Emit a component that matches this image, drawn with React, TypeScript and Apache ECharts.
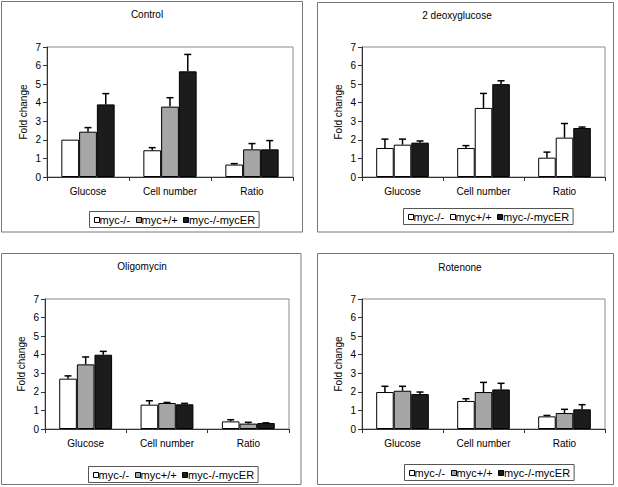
import React, { useEffect, useRef } from 'react';
import * as echarts from 'echarts';

const categories = ['Glucose', 'Cell number', 'Ratio'];
const seriesNames = ['myc-/-', 'myc+/+', 'myc-/-mycER'];
const panelTitles = ['Control', '2 deoxyglucose', 'Oligomycin', 'Rotenone'];
const yAxisName = 'Fold change';
const yMin = 0;
const yMax = 7;
const yInterval = 1;

// values[series][category]
const controlValues = [
  [2.01, 1.44, 0.67],
  [2.44, 3.79, 1.49],
  [3.91, 5.69, 1.49],
];
const controlErrors = [
  [0.0, 0.14, 0.05],
  [0.22, 0.48, 0.31],
  [0.58, 0.91, 0.47],
];
const deoxyValues = [
  [1.56, 1.56, 1.04],
  [1.74, 3.72, 2.12],
  [1.85, 5.0, 2.64],
];
const deoxyErrors = [
  [0.48, 0.13, 0.3],
  [0.3, 0.78, 0.76],
  [0.09, 0.18, 0.05],
];
const oligoValues = [
  [2.71, 1.31, 0.41],
  [3.48, 1.4, 0.29],
  [4.0, 1.33, 0.32],
];
const oligoErrors = [
  [0.15, 0.21, 0.09],
  [0.4, 0.03, 0.07],
  [0.18, 0.05, 0.01],
];
const rotenoneValues = [
  [1.99, 1.51, 0.68],
  [2.06, 1.99, 0.86],
  [1.88, 2.13, 1.06],
];
const rotenoneErrors = [
  [0.31, 0.12, 0.05],
  [0.24, 0.52, 0.2],
  [0.11, 0.33, 0.25],
];

const WHITE = '#ffffff';
const GRAY = '#a6a6a6';
const DARK = '#1c1c1c';
const defaultColors = [WHITE, GRAY, DARK];
const deoxyColors = [WHITE, WHITE, DARK];

const FONT = '"Liberation Sans", Arial, sans-serif';

const panelData = [
  { values: controlValues, errors: controlErrors, colors: defaultColors },
  { values: deoxyValues, errors: deoxyErrors, colors: deoxyColors },
  { values: oligoValues, errors: oligoErrors, colors: defaultColors },
  { values: rotenoneValues, errors: rotenoneErrors, colors: defaultColors },
];

const panelLayout = [
  { frame: [1.5, 1.5, 301, 230.5], grid: { left: 47, top: 47, width: 246, height: 130 }, title: [147, 14], legend: [89.5, 211.5, 16] },
  { frame: [317.5, 2.5, 296, 229.5], grid: { left: 362, top: 47, width: 243, height: 130 }, title: [457, 15.5], legend: [403.5, 208.5, 16] },
  { frame: [1.5, 253.5, 299.5, 231], grid: { left: 45, top: 299, width: 244, height: 130 }, title: [142, 266.5], legend: [88.5, 466.5, 16] },
  { frame: [317.5, 253.5, 296, 231], grid: { left: 362, top: 299, width: 243, height: 130 }, title: [460, 267], legend: [404.5, 464.5, 16] },
];

const BAR_GAP_FRACTION = 0.35;

function measure(text: string, size: number): number {
  try {
    const c = document.createElement('canvas').getContext('2d');
    if (c) {
      c.font = `${size}px ${FONT}`;
      return c.measureText(text).width;
    }
  } catch (e) {
    // ignore
  }
  return text.length * size * 0.55;
}

export default function App() {
  const ref = useRef<HTMLDivElement>(null);

  useEffect(() => {
    document.body.style.margin = '0';
    if (!ref.current) return;
    const chart = echarts.init(ref.current, undefined, { renderer: 'svg' });

    const grids: any[] = [];
    const xAxes: any[] = [];
    const yAxes: any[] = [];
    const series: any[] = [];
    const graphics: any[] = [];

    panelData.forEach((pd, p) => {
      const lay = panelLayout[p];
      grids.push({
        ...lay.grid,
        show: true,
        borderColor: '#8a8a8a',
        borderWidth: 1,
        backgroundColor: 'transparent',
      });
      xAxes.push({
        type: 'category',
        gridIndex: p,
        data: categories,
        axisLine: { show: true, lineStyle: { color: '#333', width: 1 } },
        axisTick: { show: true, length: 4, lineStyle: { color: '#333' } },
        axisLabel: { margin: 9, fontSize: 10, color: '#000', fontFamily: FONT },
        splitLine: { show: false },
      });
      yAxes.push({
        type: 'value',
        gridIndex: p,
        min: yMin,
        max: yMax,
        interval: yInterval,
        name: yAxisName,
        nameLocation: 'middle',
        nameRotate: 90,
        nameGap: 19,
        nameTextStyle: { fontSize: 10, color: '#000', fontFamily: FONT },
        axisLine: { show: true, lineStyle: { color: '#333', width: 1 } },
        axisTick: { show: true, length: 4, lineStyle: { color: '#333' } },
        axisLabel: { margin: 6, fontSize: 10, color: '#000', fontFamily: FONT },
        splitLine: { show: false },
      });

      pd.values.forEach((vals, k) => {
        series.push({
          type: 'bar',
          name: seriesNames[k],
          xAxisIndex: p,
          yAxisIndex: p,
          data: vals,
          barGap: '0%',
          barCategoryGap: `${BAR_GAP_FRACTION * 100}%`,
          itemStyle: { color: pd.colors[k], borderColor: '#000', borderWidth: 1 },
          z: 2,
        });
      });

      const errData: number[][] = [];
      pd.values.forEach((vals, k) => {
        vals.forEach((v, c) => {
          errData.push([c, v, pd.errors[k][c], k]);
        });
      });
      series.push({
        type: 'custom',
        xAxisIndex: p,
        yAxisIndex: p,
        data: errData,
        encode: { x: 0, y: 1 },
        z: 5,
        renderItem: (params: any, api: any) => {
          const c = api.value(0);
          const v = api.value(1);
          const e = api.value(2);
          const k = api.value(3);
          if (!e || e <= 0) return null;
          const base = api.coord([c, v]);
          const top = api.coord([c, v + e]);
          const band = api.size([1, 0])[0];
          const bw = (band * (1 - BAR_GAP_FRACTION)) / 3;
          const x = base[0] + (k - 1) * bw;
          const capHalf = 3.5;
          return {
            type: 'group',
            children: [
              {
                type: 'line',
                shape: { x1: x, y1: base[1], x2: x, y2: top[1] },
                style: { stroke: '#000', lineWidth: 1.5 },
              },
              {
                type: 'line',
                shape: { x1: x - capHalf, y1: top[1], x2: x + capHalf, y2: top[1] },
                style: { stroke: '#000', lineWidth: 1.5 },
              },
            ],
          };
        },
      });

      // panel frame
      const [fx, fy, fw, fh] = lay.frame;
      graphics.push({
        type: 'rect',
        shape: { x: fx, y: fy, width: fw, height: fh },
        style: { fill: 'none', stroke: '#777', lineWidth: 1 },
        silent: true,
      });
      // title
      graphics.push({
        type: 'text',
        x: lay.title[0],
        y: lay.title[1],
        style: {
          text: panelTitles[p],
          align: 'center',
          verticalAlign: 'middle',
          fontSize: 10,
          fontFamily: FONT,
          fill: '#000',
        },
        silent: true,
      });
      // legend
      const [lx, ly, lh] = lay.legend;
      const children: any[] = [];
      let cx = lx + 4;
      const cy = ly + lh / 2;
      seriesNames.forEach((nm, k) => {
        children.push({
          type: 'rect',
          shape: { x: Math.round(cx) + 0.5, y: Math.round(cy - 3) + 0.5, width: 5, height: 5 },
          style: { fill: pd.colors[k], stroke: '#000', lineWidth: 1 },
        });
        const tx = cx + 6;
        children.push({
          type: 'text',
          x: tx,
          y: cy,
          style: {
            text: nm,
            align: 'left',
            verticalAlign: 'middle',
            fontSize: 11,
            fontFamily: FONT,
            fill: '#000',
          },
        });
        const w = measure(nm, 11);
        cx = tx + w + (k < seriesNames.length - 1 ? 5.5 : 0);
      });
      const boxW = cx + 4 - lx;
      graphics.push({
        type: 'group',
        silent: true,
        children: [
          {
            type: 'rect',
            shape: { x: lx, y: ly, width: boxW, height: lh },
            style: { fill: '#fff', stroke: '#555', lineWidth: 1 },
          },
          ...children,
        ],
      });
    });

    chart.setOption({
      animation: false,
      backgroundColor: '#ffffff',
      textStyle: { fontFamily: FONT },
      grid: grids,
      xAxis: xAxes,
      yAxis: yAxes,
      series,
      graphic: graphics,
    });

    return () => {
      chart.dispose();
    };
  }, []);

  return <div ref={ref} style={{ width: 618, height: 487 }} />;
}
